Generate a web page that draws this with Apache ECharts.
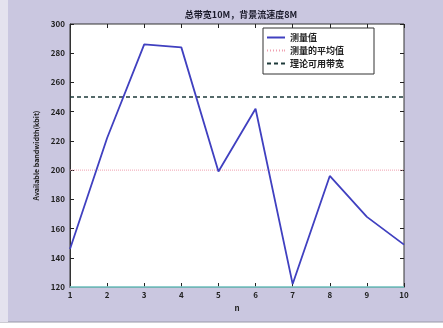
<!DOCTYPE html>
<html>
<head>
<meta charset="utf-8">
<script src="https://cdn.jsdelivr.net/npm/echarts@6/dist/echarts.min.js"></script>
<style>
  html, body { margin: 0; padding: 0; background: #fff; }
  #chart { width: 443px; height: 328px; }
</style>
</head>
<body>
<div id="chart"></div>
<script>
// sample index n
const samples = [1, 2, 3, 4, 5, 6, 7, 8, 9, 10];
// measured available bandwidth per sample
const measured = [146, 222, 286, 284, 199, 242, 122, 196, 168, 149];
// mean of the measurements
const measuredMean = 200;
// theoretical available bandwidth
const theoretical = 250;
// y-axis tick labels
const yTicks = [120, 140, 160, 180, 200, 220, 240, 260, 280, 300];

const names = ['测量值', '测量的平均值', '理论可用带宽'];
const font = '"Noto Sans CJK SC", "DejaVu Sans", sans-serif';

// legend line samples: solid, dotted and dashed strokes
const iconSolid = 'path://M0,0H18V2H0Z';
const iconDotted = 'path://M0,0H1V2H0Z M3,0H4V2H3Z M6,0H7V2H6Z M9,0H10V2H9Z M12,0H13V2H12Z M15,0H16V2H15Z M17,0H18V2H17Z';
const iconDashed = 'path://M0,0H4V2H0Z M7,0H11V2H7Z M14,0H18V2H14Z';

const chart = echarts.init(document.getElementById('chart'), null, { renderer: 'canvas' });

const tickStyle = { show: true, inside: true, length: 4, lineStyle: { color: '#222', width: 1 } };

chart.setOption({
  backgroundColor: '#cac7e0',
  animation: false,
  graphic: [
    // figure window edge along the bottom
    { type: 'rect', shape: { x: 0, y: 322, width: 443, height: 6 }, style: { fill: '#ffffff' }, silent: true },
    { type: 'line', shape: { x1: 0, y1: 322, x2: 443, y2: 322 }, style: { stroke: '#9a98a8', lineWidth: 1 }, silent: true },
    { type: 'rect', shape: { x: 0, y: 0, width: 8, height: 322 }, style: { fill: '#e4e2ee' }, silent: true }
  ],
  title: {
    text: '总带宽10M，背景流速度8M',
    left: 236,
    top: 5,
    textAlign: 'center',
    textStyle: { fontFamily: font, fontSize: 9, fontWeight: 'bold', color: '#1a1a2a' }
  },
  legend: {
    data: [
      { name: names[0], icon: iconSolid },
      { name: names[1], icon: iconDotted },
      { name: names[2], icon: iconDashed }
    ],
    orient: 'vertical',
    left: 263,
    top: 28,
    itemWidth: 18,
    itemHeight: 2,
    itemGap: 4,
    padding: [5, 30, 6, 4],
    backgroundColor: '#fff',
    borderColor: '#333',
    borderWidth: 1,
    borderRadius: 0,
    textStyle: { fontFamily: font, fontSize: 9, fontWeight: 'bold', color: '#222' }
  },
  grid: {
    left: 70, right: 39, top: 24, bottom: 41,
    show: true,
    backgroundColor: '#ffffff',
    borderColor: '#333',
    borderWidth: 1
  },
  xAxis: [
    {
      type: 'value',
      min: 1, max: 10, interval: 1,
      name: 'n',
      nameLocation: 'middle',
      nameGap: 16,
      nameTextStyle: { fontFamily: font, fontSize: 8, fontWeight: 'bold', color: '#222' },
      axisLine: { show: true, lineStyle: { color: '#333' } },
      axisTick: tickStyle,
      axisLabel: { fontFamily: font, fontSize: 8, fontWeight: 'bold', color: '#222', margin: 4 },
      splitLine: { show: false }
    },
    {
      type: 'value', position: 'top',
      min: 1, max: 10, interval: 1,
      axisLine: { show: false },
      axisTick: tickStyle,
      axisLabel: { show: false },
      splitLine: { show: false }
    }
  ],
  yAxis: [
    {
      type: 'value',
      min: yTicks[0], max: yTicks[yTicks.length - 1], interval: 20,
      name: 'Available bandwidth(kbit)',
      nameLocation: 'middle',
      nameGap: 28,
      nameTextStyle: { fontFamily: font, fontSize: 7, fontWeight: 'bold', color: '#222' },
      axisLine: { show: true, lineStyle: { color: '#333' } },
      axisTick: tickStyle,
      axisLabel: { fontFamily: font, fontSize: 8, fontWeight: 'bold', color: '#222', margin: 5 },
      splitLine: { show: false }
    },
    {
      type: 'value', position: 'right',
      min: yTicks[0], max: yTicks[yTicks.length - 1], interval: 20,
      axisLine: { show: false },
      axisTick: tickStyle,
      axisLabel: { show: false },
      splitLine: { show: false }
    }
  ],
  series: [
    {
      name: names[0],
      type: 'line',
      data: samples.map((n, i) => [n, measured[i]]),
      symbol: 'none',
      lineStyle: { color: '#4040c0', width: 1.8 },
      itemStyle: { color: '#4040c0' },
      z: 5
    },
    {
      name: names[1],
      type: 'line',
      data: samples.map(n => [n, measuredMean]),
      symbol: 'none',
      lineStyle: { color: '#f0a0b0', width: 1, type: 'dotted' },
      itemStyle: { color: '#f0a0b0' },
      z: 3
    },
    {
      name: names[2],
      type: 'line',
      data: samples.map(n => [n, theoretical]),
      symbol: 'none',
      lineStyle: { color: '#1e3a3a', width: 1.5, type: [4, 3] },
      itemStyle: { color: '#1e3a3a' },
      z: 4,
      markLine: {
        silent: true,
        symbol: 'none',
        label: { show: false },
        lineStyle: { color: '#8ee0e0', width: 1.5, type: 'solid' },
        data: [{ yAxis: yTicks[0] }]
      }
    }
  ]
});
</script>
</body>
</html>
